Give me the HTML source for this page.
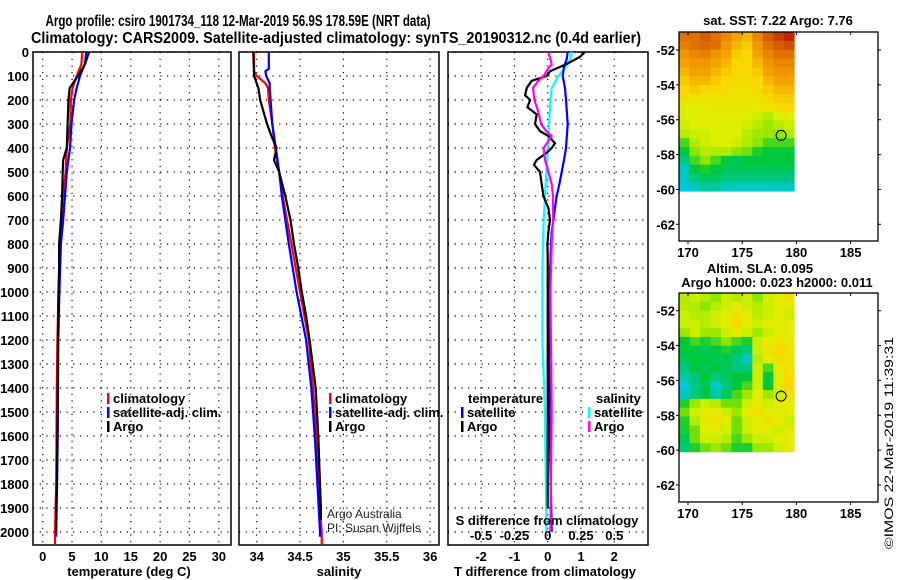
<!DOCTYPE html>
<html><head><meta charset="utf-8"><title>Argo profile</title>
<style>
html,body{margin:0;padding:0;background:#fff;}
svg{display:block;font-family:"Liberation Sans",sans-serif;}
.b{font-weight:bold;font-size:13px;}
.tt{font-weight:bold;font-size:15.5px;}
</style></head>
<body>
<svg id="chart" width="900" height="580" viewBox="0 0 900 580" xmlns="http://www.w3.org/2000/svg">
<g>
<text x="238" y="26" text-anchor="middle" class="tt" textLength="385" lengthAdjust="spacingAndGlyphs">Argo profile: csiro 1901734_118 12-Mar-2019 56.9S 178.59E (NRT data)</text>
<text x="336" y="43" text-anchor="middle" class="tt" textLength="610" lengthAdjust="spacingAndGlyphs">Climatology: CARS2009. Satellite-adjusted climatology: synTS_20190312.nc (0.4d earlier)</text>
</g>
<g id="layer"></g>
<text x="0" y="0" transform="translate(893,549) rotate(-90)" font-size="12" textLength="212" lengthAdjust="spacingAndGlyphs">©IMOS 22-Mar-2019 11:39:31</text>
</svg>
<script>
// ---- profile data ----
const tDepths = [0,50,100,150,200,300,400,450,500,600,700,800,900,1000,1200,1400,1600,1800,1900,2000];
const tArgo   = [7.9,7.2,6.0,4.6,4.4,4.25,4.1,3.5,3.4,3.3,3.1,2.8,2.8,2.7,2.6,2.55,2.5,2.4,2.3,2.3];
const tClimDepths = [0,50,100,150,200,300,400,500,600,700,800,1000,1200,1400,1600,1800,2000,2050];
const tClim   = [6.75,6.6,5.8,5.1,4.8,4.7,4.1,3.9,3.5,3.3,2.95,2.7,2.5,2.4,2.35,2.3,2.1,2.1];
const tSatDepths = [0,50,100,150,200,300,400,500,600,700,800,1000,1200,1400,1600,1800,2000,2020];
const tSat    = [7.4,7.2,6.35,5.8,5.35,4.9,4.65,4.1,3.8,3.5,3.1,2.85,2.65,2.6,2.55,2.45,2.3,2.3];

const sArgoDepths = [0,100,150,200,250,300,350,400,450,500,600,700,800,900,1000,1100,1200,1400,1600,1800,1900,1950];
const sArgo   = [33.96,33.97,34.02,34.04,34.08,34.12,34.17,34.23,34.2,34.26,34.33,34.39,34.43,34.48,34.52,34.57,34.61,34.68,34.71,34.73,34.74,34.74];
const sClimDepths = [0,80,100,130,150,200,300,400,500,600,700,800,1000,1200,1400,1600,1800,2000,2050];
const sClim   = [33.97,33.97,34.0,34.1,34.13,34.14,34.18,34.21,34.26,34.3,34.35,34.4,34.5,34.6,34.65,34.69,34.71,34.75,34.75];
const sSatDepths = [0,70,80,100,130,150,300,400,500,600,700,800,1000,1200,1400,1600,1800,2000,2020];
const sSat    = [34.14,34.14,34.1,34.11,34.15,34.15,34.18,34.22,34.26,34.29,34.33,34.37,34.46,34.57,34.63,34.67,34.7,34.73,34.73];

const dTArgoDepths = [0,20,50,80,100,120,150,180,200,230,260,300,330,350,380,400,420,450,470,500,550,600,650,700,750,800,850,1000,1300,1600,1900];
const dTArgo = [1.12,0.97,0.57,0.07,-0.03,-0.48,-0.63,-0.68,-0.53,-0.61,-0.33,-0.38,-0.23,0.02,0.22,0.12,-0.03,-0.33,-0.41,-0.23,-0.18,-0.13,0.02,0.07,0.02,-0.01,0,0,0,0,0];
const dTSatDepths = [0,30,60,100,150,200,300,400,450,500,550,600,650,700,750,800,1000,1500,2000];
const dTSat  = [0.6,0.57,0.49,0.45,0.52,0.55,0.6,0.55,0.49,0.42,0.35,0.27,0.22,0.17,0.12,0.1,0.05,0.05,0.12];
const dSSatDepths = [0,30,60,100,150,200,300,400,500,600,700,900,1200,1500,2000];
const dSSat  = [0.18,0.17,0.14,0.08,0.03,0.02,0.01,0,-0.01,-0.02,-0.03,-0.04,-0.04,-0.02,-0.01];
const dSArgoDepths = [0,50,80,100,120,150,200,250,300,330,350,400,450,500,550,600,700,800,1000,1500,2000];
const dSArgo = [0.005,0.03,-0.01,-0.03,-0.07,-0.11,-0.1,-0.07,-0.05,-0.01,0.03,-0.03,-0.02,0.005,0.03,0.04,0.04,0.03,0.02,0.03,0.02];

const depthTicks = [0,100,200,300,400,500,600,700,800,900,1000,1100,1200,1300,1400,1500,1600,1700,1800,1900,2000];
const tTicks = [0,5,10,15,20,25,30];
const sTicks = [34,34.5,35,35.5,36];
const sTickLabels = ["34","34.5","35","35.5","36"];
const dTTicks = [-2,-1,0,1,2];
const dSTicks = [-0.5,-0.25,0,0.25,0.5];
const dSTickLabels = ["-0.5","-0.25","0","0.25","0.5"];

// ---- map data (values 0..1 on colour scale) ----
const lonTicks = [170,175,180,185];
const latTicks = [-52,-54,-56,-58,-60,-62];
const sstGrid = [
[.85,.85,.88,.85,.82,.78,.75,.82,.88,.92,.95],
[.83,.85,.86,.85,.8,.75,.72,.8,.85,.88,.9],
[.8,.82,.83,.8,.78,.72,.7,.78,.82,.85,.85],
[.78,.8,.8,.78,.75,.7,.7,.75,.8,.82,.82],
[.75,.78,.78,.75,.72,.7,.7,.72,.78,.8,.8],
[.72,.75,.75,.72,.7,.68,.68,.7,.75,.78,.78],
[.7,.72,.7,.7,.68,.66,.66,.68,.72,.75,.75],
[.68,.65,.65,.65,.65,.65,.65,.66,.7,.72,.72],
[.6,.62,.62,.63,.63,.63,.63,.63,.65,.68,.7],
[.6,.6,.62,.62,.62,.62,.6,.58,.55,.6,.62],
[.58,.6,.6,.6,.62,.6,.58,.55,.52,.55,.58],
[.55,.58,.58,.6,.6,.6,.55,.52,.52,.5,.55],
[.45,.55,.58,.6,.6,.58,.55,.5,.45,.45,.45],
[.4,.5,.55,.55,.55,.5,.48,.42,.4,.4,.4],
[.35,.45,.5,.45,.4,.38,.4,.4,.4,.4,.4],
[.3,.4,.42,.4,.38,.38,.38,.38,.38,.38,.38],
[.3,.35,.38,.38,.35,.35,.35,.35,.35,.35,.35],
[.28,.3,.32,.33,.3,.3,.3,.3,.3,.3,.3]];
const slaGrid = [
[.55,.58,.55,.5,.58,.55,.58,.5,.58,.62,.66],
[.55,.55,.5,.55,.58,.62,.58,.55,.58,.62,.62],
[.58,.55,.55,.58,.62,.66,.62,.55,.58,.62,.58],
[.58,.58,.55,.58,.62,.7,.62,.58,.62,.62,.62],
[.52,.58,.52,.52,.58,.62,.58,.52,.58,.62,.62],
[.4,.45,.42,.45,.5,.45,.42,.58,.62,.66,.62],
[.4,.4,.38,.4,.42,.38,.35,.58,.66,.7,.66],
[.38,.4,.4,.38,.38,.35,.3,.55,.62,.66,.66],
[.35,.4,.38,.4,.38,.35,.35,.58,.45,.62,.66],
[.32,.35,.4,.35,.38,.4,.4,.58,.4,.62,.7],
[.28,.35,.38,.3,.35,.4,.45,.58,.4,.62,.7],
[.3,.35,.4,.32,.38,.45,.52,.62,.52,.58,.66],
[.42,.52,.58,.55,.48,.48,.58,.62,.58,.62,.62],
[.48,.58,.62,.62,.58,.52,.62,.66,.62,.62,.62],
[.42,.55,.62,.66,.62,.48,.58,.62,.66,.62,.58],
[.42,.48,.62,.62,.58,.48,.58,.62,.62,.58,.62],
[.38,.48,.58,.58,.55,.45,.52,.58,.58,.62,.62],
[.36,.42,.48,.52,.48,.42,.42,.52,.52,.58,.62]];
const floatLon = 178.59, floatLat = -56.9;

const NS = "http://www.w3.org/2000/svg";
const layer = document.getElementById('layer');
function mk(tag, attrs, parent){ const e=document.createElementNS(NS,tag); for(const k in attrs) e.setAttribute(k,attrs[k]); (parent||layer).appendChild(e); return e; }
function txt(x,y,s,anchor,cls,parent){ const t=mk('text',{x:x,y:y,'text-anchor':anchor||'start','class':cls||'b'},parent); t.textContent=s; return t; }

const Y0=52, pxPerM=0.24, PB=545, PT=52;
const yD = d => Y0 + d*pxPerM;
const panels = [
 {name:'temperature', x0:33, x1:231, f:v=>42.7+v*5.87},
 {name:'salinity', x0:239, x1:439, f:v=>256.7+(v-34)*86.7},
 {name:'difference', x0:448, x1:648, f:v=>547.7+v*33.3}
];
const fS = v => 547.7 + v*133.2;

function gridAndFrame(p, xt){
  const g = mk('g',{});
  
  
  depthTicks.forEach(d=>{
    const l=mk('line',{x1:p.x0,x2:p.x1,y1:yD(d),y2:yD(d),stroke:'#000','stroke-dasharray':'1.2 5.5','stroke-width':1.2},g);
    
    
  });
  xt.forEach(v=>{
    const l=mk('line',{x1:p.f(v),x2:p.f(v),y1:PT,y2:PB,stroke:'#000','stroke-dasharray':'1.2 5.5','stroke-width':1.2},g);
    
    
  });
  const r=mk('rect',{x:p.x0,y:PT,width:p.x1-p.x0,height:PB-PT,fill:'none',stroke:'#000','stroke-width':1.5},g);
  
  
  return g;
}
const g1=gridAndFrame(panels[0],tTicks);
const g2=gridAndFrame(panels[1],sTicks);
const g3=gridAndFrame(panels[2],dTTicks);

depthTicks.forEach(d=>{
  const t=txt(29,yD(d)+5,String(d),'end');
  
  
});
tTicks.forEach(v=>{ const t=txt(panels[0].f(v),561,String(v),'middle');
    });
sTicks.forEach((v,i)=>{ const t=txt(panels[1].f(v),561,sTickLabels[i],'middle');
    });
dTTicks.forEach(v=>{ const t=txt(panels[2].f(v),561,String(v),'middle');
    });
dSTicks.forEach((v,i)=>{ const t=txt(fS(v),540,dSTickLabels[i],'middle');
    });
let at=txt(129,576,'temperature (deg C)','middle');  
at=txt(339,576,'salinity','middle');  
at=txt(545,576,'T difference from climatology','middle');  
at=txt(547,525,'S difference from climatology','middle');  

function series(depths, vals, fx, color, name, parent){
  const pts = depths.map((d,i)=>fx(vals[i]).toFixed(1)+','+yD(d).toFixed(1)).join(' ');
  const l=mk('polyline',{points:pts,fill:'none',stroke:color,'stroke-width':2.2,'stroke-linejoin':'miter'},parent);
  
  
}
series(tClimDepths,tClim,panels[0].f,'#ff0000','temperature-climatology-line',g1);
series(tSatDepths,tSat,panels[0].f,'#0000ff','temperature-satellite-line',g1);
series(tDepths,tArgo,panels[0].f,'#000','temperature-argo-line',g1);
series(sClimDepths,sClim,panels[1].f,'#ff0000','salinity-climatology-line',g2);
series(sSatDepths,sSat,panels[1].f,'#0000ff','salinity-satellite-line',g2);
series(sArgoDepths,sArgo,panels[1].f,'#000','salinity-argo-line',g2);
series(dSSatDepths,dSSat,fS,'#00ffff','s-diff-satellite-line',g3);
series(dTSatDepths,dTSat,panels[2].f,'#0000ff','t-diff-satellite-line',g3);
series(dTArgoDepths,dTArgo,panels[2].f,'#000','t-diff-argo-line',g3);
series(dSArgoDepths,dSArgo,fS,'#ff00ff','s-diff-argo-line',g3);

function legendEntry(x,y,color,label){
  const g=mk('g',{});
  
  
  mk('rect',{x:x,y:y-10,width:2.5,height:11,fill:color},g);
  txt(x+6,y,label,'start','b',g);
}
legendEntry(107,403,'#ff0000','climatology');
legendEntry(107,417,'#0000ff','satellite-adj. clim.');
legendEntry(107,431,'#000','Argo');
legendEntry(329,403,'#ff0000','climatology');
legendEntry(329,417,'#0000ff','satellite-adj. clim.');
legendEntry(329,431,'#000','Argo');
at=txt(468,403,'temperature');  
legendEntry(461,417,'#0000ff','satellite');
legendEntry(461,431,'#000','Argo');
at=txt(596,403,'salinity');  
legendEntry(588,417,'#00ffff','satellite');
legendEntry(588,431,'#ff00ff','Argo');
at=mk('text',{x:327,y:518,'font-size':12,fill:'#222'}); at.textContent='Argo Australia';
 
at=mk('text',{x:327,y:532,'font-size':12,fill:'#222'}); at.textContent='PI: Susan Wijffels';
 

// ---- maps ----
function cmap(v){
  const stops=[[0.15,[0,0,200]],[0.28,[0,200,220]],[0.4,[0,200,60]],[0.5,[140,230,0]],[0.6,[220,240,0]],[0.7,[250,215,0]],[0.8,[240,150,0]],[0.95,[190,40,0]]];
  if(v<=stops[0][0]) return 'rgb('+stops[0][1]+')';
  for(let i=1;i<stops.length;i++){ if(v<=stops[i][0]){ const a=stops[i-1],b=stops[i],t=(v-a[0])/(b[0]-a[0]);
    return 'rgb('+a[1].map((c,k)=>Math.round(c+(b[1][k]-c)*t)).join(',')+')'; } }
  return 'rgb('+stops[stops.length-1][1]+')';
}
function drawMap(top, lat52y, grid, mapName, titles){
  const x0=679,x1=878,bottom=top+209;
  const fx=lon=>688+(lon-170)*10.84;
  const fy=lat=>lat52y+(-52-lat)*17.43;
  const g=mk('g',{});
  
  
  const lon0=169.17, lon1=179.8, lat0=-50.97, lat1=-60.1;
  const nr=grid.length,nc=grid[0].length;
  const cw=(lon1-lon0)/nc, ch=(lat0-lat1)/nr;
  grid.forEach((row,r)=>row.forEach((v,c)=>{
    const xa=fx(lon0+c*cw), xb=fx(lon0+(c+1)*cw), ya=fy(lat0-r*ch), yb=fy(lat0-(r+1)*ch);
    const cell=mk('rect',{x:xa.toFixed(2),y:ya.toFixed(2),width:(xb-xa+0.4).toFixed(2),height:(yb-ya+0.4).toFixed(2),fill:cmap(v)},g);
    
    
  }));
  const fr=mk('rect',{x:x0,y:top,width:x1-x0,height:bottom-top,fill:'none',stroke:'#000','stroke-width':1.3},g);
  
  
  latTicks.forEach(l=>{
    mk('line',{x1:x0-3,x2:x0,y1:fy(l),y2:fy(l),stroke:'#000'},g);
    mk('line',{x1:x1,x2:x1+3,y1:fy(l),y2:fy(l),stroke:'#000'},g);
    const t=txt(675,fy(l)+5,String(l),'end','b',g);
    
    
  });
  lonTicks.forEach(l=>{
    mk('line',{x1:fx(l),x2:fx(l),y1:top,y2:top+3,stroke:'#000'},g);
    mk('line',{x1:fx(l),x2:fx(l),y1:bottom,y2:bottom+3,stroke:'#000'},g);
    const t=txt(fx(l),bottom+16,String(l),'middle','b',g);
    
    
  });
  const c=mk('circle',{cx:fx(floatLon),cy:fy(floatLat),r:5,fill:'none',stroke:'#000','stroke-width':1},g);
  
  
  titles.forEach(tt=>{ const t=txt(tt[0],tt[1],tt[2],'middle','b',g);
      });
}
drawMap(32,50,sstGrid,'sst-map',[[778,25,'sat. SST: 7.22 Argo: 7.76']]);
drawMap(293,310.7,slaGrid,'sla-map',[[760,273,'Altim. SLA: 0.095'],[777,287,'Argo h1000: 0.023 h2000: 0.011']]);
</script>
</body></html>
